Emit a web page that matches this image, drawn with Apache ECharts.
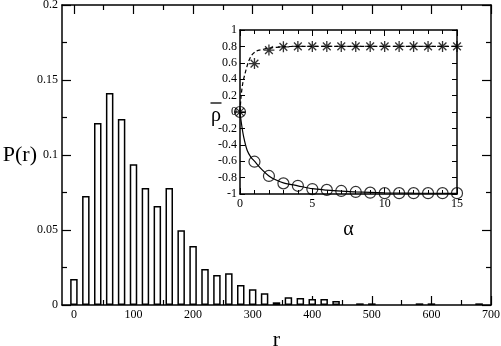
<!DOCTYPE html>
<html>
<head>
<meta charset="utf-8">
<script src="https://cdn.jsdelivr.net/npm/echarts@6/dist/echarts.min.js"></script>
<style>
  html, body { margin: 0; padding: 0; background: #fff; }
  #chart { width: 501px; height: 346px; }
</style>
</head>
<body>
<div id="chart"></div>
<script>
// Histogram of r
const rBins = [0, 20, 40, 60, 80, 100, 120, 140, 160, 180, 200, 220, 240, 260, 280,
               300, 320, 340, 360, 380, 400, 420, 440, 480, 500, 580, 600, 680];
const pValues = [0.0173, 0.0727, 0.1213, 0.1413, 0.124, 0.0938, 0.078, 0.066, 0.078,
                 0.0498, 0.0393, 0.024, 0.02, 0.0211, 0.0133, 0.0105, 0.0078, 0.0018,
                 0.0051, 0.0046, 0.004, 0.004, 0.0026, 0.0011, 0.0011, 0.0011, 0.0011, 0.0011];
const rMajorTicks = [0, 100, 200, 300, 400, 500, 600, 700];
const rMinorTicks = [50, 150, 250, 350, 450, 550, 650];

// Inset: mean rho against alpha
const alphaPoints = [0, 1, 2, 3, 4, 5, 6, 7, 8, 9, 10, 11, 12, 13, 14, 15];
const rhoCircles = [0, -0.606, -0.78, -0.87, -0.9, -0.94, -0.95, -0.963, -0.975, -0.984,
                    -0.99, -0.99, -0.99, -0.99, -0.99, -0.99];
const rhoStars = [0, 0.59, 0.755, 0.795, 0.8, 0.8, 0.8, 0.8, 0.8, 0.8, 0.8, 0.8, 0.8, 0.8, 0.8, 0.8];
const solidAlpha = [0, 0.1, 0.25, 0.5, 0.75, 1, 1.5, 2, 2.5, 3, 4, 5, 6, 7, 8, 10, 12, 15];
const solidRho = [0, -0.14, -0.3, -0.47, -0.55, -0.6, -0.7, -0.78, -0.83, -0.865, -0.9,
                  -0.935, -0.952, -0.965, -0.975, -0.985, -0.99, -0.992];
const dashAlpha = [0, 0.08, 0.2, 0.35, 0.58, 0.8, 1.15, 1.6, 2, 3, 4, 15];
const dashRho = [0, 0.2, 0.36, 0.47, 0.61, 0.69, 0.745, 0.765, 0.78, 0.795, 0.8, 0.8];

const FONT = 'Liberation Serif';
const pair = (xs, ys) => xs.map((x, i) => [x, ys[i]]);
const STAR = 'path://M0,-10L0,10M-10,0L10,0M-7.07,-7.07L7.07,7.07M-7.07,7.07L7.07,-7.07';

const frameLine = { show: true, onZero: false, lineStyle: { color: '#000', width: 1.5 } };
const noLine = { show: false, onZero: false };
const labelStyle = { color: '#000', fontFamily: FONT, fontSize: 12 };

function mainX(position, ticks, len, withLine, withLabels) {
  return {
    type: 'value', gridIndex: 0, position: position, min: -20, max: 700,
    axisLine: withLine ? frameLine : noLine,
    axisTick: { show: true, inside: true, length: len, customValues: ticks,
                lineStyle: { color: '#000', width: 1.2 } },
    axisLabel: withLabels
      ? Object.assign({ show: true, margin: 4, customValues: rMajorTicks }, labelStyle)
      : { show: false },
    splitLine: { show: false }
  };
}

function mainY(position, withLabels) {
  return {
    type: 'value', gridIndex: 0, position: position, min: 0, max: 0.2, interval: 0.05,
    axisLine: frameLine,
    axisTick: { show: true, inside: true, length: 9, lineStyle: { color: '#000', width: 1.2 } },
    minorTick: { show: true, splitNumber: 2, length: 5, lineStyle: { color: '#000', width: 1.2 } },
    axisLabel: withLabels ? Object.assign({ show: true, margin: 4 }, labelStyle) : { show: false },
    splitLine: { show: false }, minorSplitLine: { show: false }
  };
}

function insetX(position, withLabels) {
  return {
    type: 'value', gridIndex: 1, position: position, min: 0, max: 15, interval: 5,
    axisLine: frameLine,
    axisTick: { show: true, inside: true, length: 6, lineStyle: { color: '#000', width: 1 } },
    minorTick: { show: true, splitNumber: 5, length: 4, lineStyle: { color: '#000', width: 1 } },
    axisLabel: withLabels ? Object.assign({ show: true, margin: 4 }, labelStyle) : { show: false },
    splitLine: { show: false }, minorSplitLine: { show: false }
  };
}

function insetY(position, withLabels) {
  return {
    type: 'value', gridIndex: 1, position: position, min: -1, max: 1, interval: 0.2,
    axisLine: frameLine,
    axisTick: { show: true, inside: true, length: 5, lineStyle: { color: '#000', width: 1 } },
    axisLabel: withLabels ? Object.assign({ show: true, margin: 3 }, labelStyle) : { show: false },
    splitLine: { show: false }
  };
}

const xMain = mainX('bottom', rMajorTicks, 9, true, true);
xMain.name = 'r';
xMain.nameLocation = 'middle';
xMain.nameGap = 24;
xMain.nameMoveOverlap = false;
xMain.nameTextStyle = { color: '#000', fontFamily: FONT, fontSize: 22 };

const yMain = mainY('left', true);
yMain.name = 'P(r)';
yMain.nameLocation = 'middle';
yMain.nameRotate = 0;
yMain.nameGap = 25;
yMain.nameMoveOverlap = false;
yMain.nameTextStyle = { color: '#000', fontFamily: FONT, fontSize: 22 };

const xInset = insetX('bottom', true);
xInset.name = 'α';
xInset.nameLocation = 'middle';
xInset.nameGap = 26;
xInset.nameMoveOverlap = false;
xInset.nameTextStyle = { color: '#000', fontFamily: FONT, fontSize: 20 };

// rho with an overbar, built from a thin bar token above the glyph
const yInset = insetY('left', true);
yInset.name = '{bar| }\n{rho|ρ}';
yInset.nameLocation = 'middle';
yInset.nameRotate = 0;
yInset.nameGap = 24;
yInset.nameMoveOverlap = false;
yInset.nameTextStyle = {
  color: '#000', fontFamily: FONT, fontSize: 20, align: 'center',
  rich: {
    bar: { width: 11, height: 1.3, lineHeight: 8, fontSize: 1, backgroundColor: '#000' },
    rho: { fontFamily: FONT, fontSize: 20, lineHeight: 18, color: '#000' }
  }
};

const chart = echarts.init(document.getElementById('chart'), null, { renderer: 'canvas' });
chart.setOption({
  backgroundColor: '#fff',
  animation: false,
  grid: [
    { left: 62, top: 5, right: 10, bottom: 41, containLabel: false, outerBoundsMode: 'none' },
    { left: 240, top: 30, width: 217, height: 164, containLabel: false, outerBoundsMode: 'none' }
  ],
  xAxis: [
    xMain,
    mainX('bottom', rMinorTicks, 5, false, false),
    mainX('top', rMajorTicks, 9, true, false),
    mainX('top', rMinorTicks, 5, false, false),
    xInset,
    insetX('top', false)
  ],
  yAxis: [
    yMain,
    mainY('right', false),
    yInset,
    insetY('right', false)
  ],
  series: [
    {
      type: 'bar', xAxisIndex: 0, yAxisIndex: 0,
      data: pair(rBins, pValues),
      barWidth: 7.5,
      itemStyle: { color: '#fff', borderColor: '#000', borderWidth: 1.5 }
    },
    {
      type: 'line', xAxisIndex: 4, yAxisIndex: 2,
      data: pair(solidAlpha, solidRho), smooth: 0.3, showSymbol: false, symbol: 'none',
      lineStyle: { color: '#000', width: 1.2 }, clip: false
    },
    {
      type: 'line', xAxisIndex: 4, yAxisIndex: 2,
      data: pair(dashAlpha, dashRho), smooth: 0.3, showSymbol: false, symbol: 'none',
      lineStyle: { color: '#000', width: 1.2, type: [4, 2.5] }, clip: false
    },
    {
      type: 'scatter', xAxisIndex: 4, yAxisIndex: 2,
      data: pair(alphaPoints, rhoCircles), symbol: 'circle', symbolSize: 11,
      itemStyle: { color: 'rgba(0,0,0,0)', borderColor: '#000', borderWidth: 1.2 }, clip: false
    },
    {
      type: 'scatter', xAxisIndex: 4, yAxisIndex: 2,
      data: pair(alphaPoints, rhoStars), symbol: STAR, symbolSize: 11,
      itemStyle: { color: 'rgba(0,0,0,0)', borderColor: '#000', borderWidth: 1.3 }, clip: false
    }
  ]
});
</script>
</body>
</html>
